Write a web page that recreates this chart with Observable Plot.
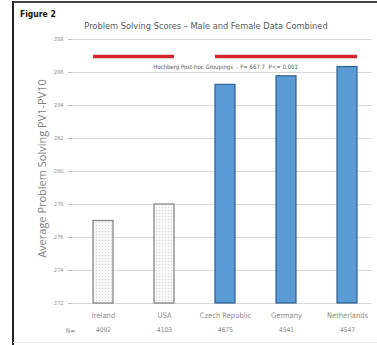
<!DOCTYPE html>
<html>
<head>
<meta charset="utf-8">
<script src="https://cdn.jsdelivr.net/npm/d3@7"></script>
<script src="https://cdn.jsdelivr.net/npm/@observablehq/plot@0.6"></script>
<style>
  html, body { margin: 0; padding: 0; background: #fff; }
  #wrap { position: relative; width: 377px; height: 345px; overflow: hidden; background: #fff;
    font-family: "Liberation Sans Narrow", "DejaVu Sans Condensed", "Liberation Sans", sans-serif; }
  #frameTop { position: absolute; left: 13px; top: 1px; width: 364px; height: 2px; background: #444; }
  #frameLeft { position: absolute; left: 12px; top: 1px; width: 2px; height: 344px; background: #222; }
  #frameBottom { position: absolute; left: 13px; top: 342px; width: 364px; height: 1px; background: #e6e6e6; }
  #fig { position: absolute; left: 20px; top: 9px; font-size: 8.5px; font-weight: bold; color: #111; white-space: nowrap; font-stretch: condensed; }
  #title { position: absolute; left: 0; width: 412px; top: 20px; text-align: center; font-size: 9.2px; color: #595959; white-space: nowrap; font-stretch: condensed; }
  #chart { position: absolute; left: 0; top: 0; }
</style>
</head>
<body>
<div id="wrap">
  <div id="frameTop"></div>
  <div id="frameLeft"></div>
  <div id="frameBottom"></div>
  <div id="fig">Figure 2</div>
  <div id="title">Problem Solving Scores – Male and Female Data Combined</div>
  <div id="chart"></div>
</div>
<script>
const countries = ["Ireland", "USA", "Czech Republic", "Germany", "Netherlands"];
const scores = [277.0, 278.0, 285.25, 285.77, 286.33];
const sampleN = ["4092", "4103", "4675", "4541", "4547"];
const yTicks = [272, 274, 276, 278, 280, 282, 284, 286, 288];
const groupStart = ["Ireland", "Czech Republic"];
const groupEnd = ["USA", "Netherlands"];
const groupLineValue = 286.97;
const noteText = "Hochberg Post-hoc Groupings  - F= 667.7  P<= 0.001";
const noteValue = 286.35;
const yLabel = "Average Problem Solving PV1-PV10";

const bars = countries.map((c, i) => ({country: c, score: scores[i], highlight: i >= 2}));
const groups = groupStart.map((s, i) => ({x1: s, x2: groupEnd[i], y: groupLineValue}));
const nByCountry = Object.fromEntries(countries.map((c, i) => [c, sampleN[i]]));

const font = '"Liberation Sans Narrow", "DejaVu Sans Condensed", "Liberation Sans", sans-serif';

const chart = Plot.plot({
  width: 377,
  height: 345,
  marginTop: 39,
  marginBottom: 42,
  marginLeft: 72,
  marginRight: 5,
  style: {fontFamily: font, fontStretch: "condensed", background: "transparent", overflow: "visible"},
  x: {domain: countries, range: [71.3, 378.3], paddingInner: 0.674, paddingOuter: 0.337},
  y: {domain: [272, 288], ticks: yTicks},
  marks: [
    Plot.gridY(yTicks, {stroke: "#d9d9d9", strokeOpacity: 1, strokeWidth: 1}),
    Plot.axisY(yTicks, {tickSize: 4, tickPadding: 5, fontSize: 5.5, fill: "#8c8c8c", stroke: "#bfbfbf", label: null}),
    Plot.axisX({tickSize: 0, tickPadding: 9, fontSize: 7.5, fill: "#8c8c8c", label: null}),
    Plot.axisX({tickSize: 0, tickPadding: 24, fontSize: 6.5, fill: "#7f7f7f", label: null, tickFormat: d => nByCountry[d]}),
    Plot.text(["N="], {frameAnchor: "bottom-left", dx: -2, dy: 29, fontSize: 6.5, fill: "#7f7f7f", textAnchor: "middle"}),
    Plot.text([yLabel], {frameAnchor: "left", textAnchor: "middle", rotate: -90, dx: -30, dy: -3, fontSize: 11, fill: "#808080", fontFamily: "Open Sans, sans-serif"}),
    Plot.barY(bars, {
      x: "country", y1: 272, y2: "score",
      fill: d => d.highlight ? "#5b9bd5" : "url(#dots)",
      stroke: d => d.highlight ? "#2f5f8f" : "#7f7f7f",
      strokeWidth: 1.2
    }),
    Plot.ruleY(groups, {x1: "x1", x2: "x2", y: "y", stroke: "#d0262e", strokeWidth: 3.5}),
    Plot.text([noteText], {x: () => "Czech Republic", y: () => noteValue, fontSize: 6, fill: "#555"})
  ]
});

const svg = d3.select(chart);
// y label in normal (non-condensed) width
svg.selectAll("text").filter(function() { return this.textContent === yLabel; }).style("font-stretch", "normal");
// dotted pattern fill for the non-highlighted bars
const defs = svg.insert("defs", ":first-child");
const pat = defs.append("pattern").attr("id", "dots").attr("patternUnits", "userSpaceOnUse").attr("width", 3).attr("height", 3);
pat.append("rect").attr("width", 3).attr("height", 3).attr("fill", "#f7f7f7");
pat.append("rect").attr("width", 1).attr("height", 1).attr("fill", "#d6d6d6");

document.getElementById("chart").appendChild(chart);
</script>
</body>
</html>
